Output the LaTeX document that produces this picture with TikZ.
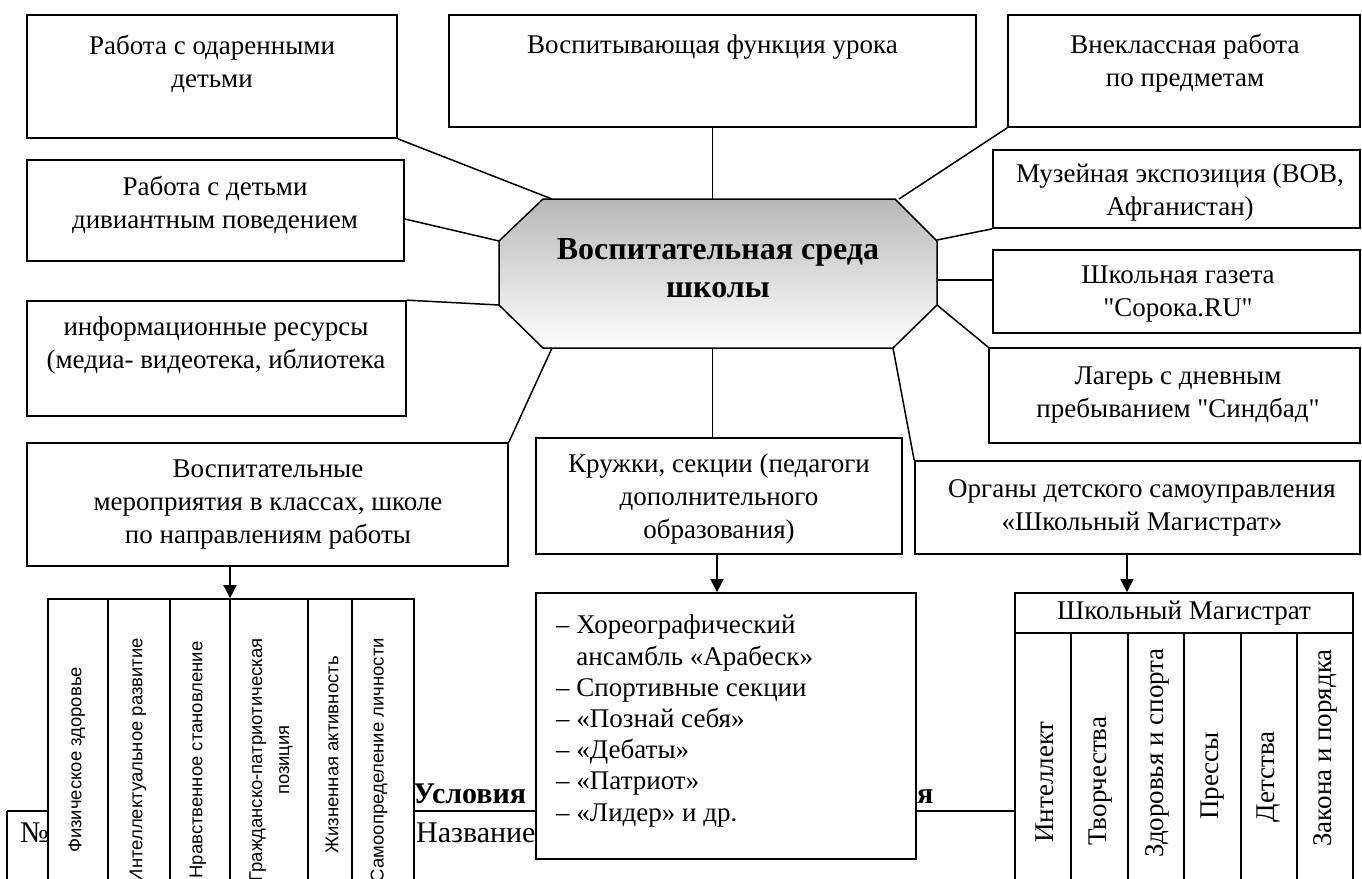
\documentclass[tikz,border=0pt]{standalone}
\usepackage{fontspec}
\setmainfont{Liberation Serif}
\newfontfamily\sansf{Liberation Sans}
\newfontfamily\qf{Liberation Serif}
\usetikzlibrary{arrows.meta}
\newcommand{\sq}{{\qf "}}
\begin{document}
\begin{tikzpicture}[x=1pt,y=-1pt,
  box/.style={draw, line width=1.7pt, fill=white, inner sep=0pt},
  txt/.style={inner sep=0pt, align=center, font=\fontsize{27}{33}\selectfont},
  conn/.style={line width=1.5pt},
  arr/.style={line width=1.6pt, -{Triangle[length=13pt,width=13pt]}},
  rots/.style={rotate=90, inner sep=0pt, align=center, font=\sansf\fontsize{18.5}{27}\selectfont},
  rotr/.style={rotate=90, inner sep=0pt, align=center, font=\fontsize{27}{32}\selectfont},
  big/.style={inner sep=0pt, font=\fontsize{30}{36}\selectfont}]
\useasboundingbox (0,0) rectangle (1362,878);
\clip (0,0) rectangle (1362,878);

% background document table (partly hidden)
\draw[line width=1.6pt] (7,811) -- (1015,811);
\draw[line width=1.6pt] (7,811) -- (7,890);
\draw[line width=1.6pt] (414,811) -- (414,890);
\node[big, anchor=base west] (num) at (20,842) {№};
\node[big, anchor=base west, font=\bfseries\fontsize{30}{36}\selectfont] (usl) at (413,803) {Условия};
\node[big, anchor=base west, font=\bfseries\fontsize{30}{36}\selectfont] (uslend) at (917,803) {я};
\node[big, anchor=base west] (nazv) at (416,842) {Название};

% octagon
\path[draw, line width=1.5pt, top color=black!28, bottom color=white]
  (543,199) -- (895,199) -- (937,241) -- (937,305) -- (893,348) -- (543,348) -- (499,305) -- (499,241) -- cycle;
\node[inner sep=0pt, align=center, font=\bfseries\fontsize{32}{38}\selectfont] (oct) at (718,268) {Воспитательная среда\\школы};
\coordinate (o1) at (552,199);
\coordinate (o2) at (712.5,199);
\coordinate (o3) at (899,199);
\coordinate (o4) at (499,241);
\coordinate (o5) at (499,305);
\coordinate (o6) at (552,348);
\coordinate (o7) at (712.5,348);
\coordinate (o8) at (893,348);
\coordinate (o9) at (937,305);
\coordinate (o10) at (937,280);
\coordinate (o11) at (937,240);

% boxes
\node[box, minimum width=370pt, minimum height=123pt] (b1) at (212,76.5) {};
\node[box, minimum width=527pt, minimum height=112pt] (bB) at (712.5,71) {};
\node[box, minimum width=352pt, minimum height=112pt] (bC) at (1184,71) {};
\node[box, minimum width=377pt, minimum height=101pt] (b2) at (215.5,210.5) {};
\node[box, minimum width=379pt, minimum height=115pt] (b3) at (216.5,358.5) {};
\node[box, minimum width=481pt, minimum height=123pt] (b4) at (267.5,504.5) {};
\node[box, minimum width=366pt, minimum height=116pt] (b5) at (719,496) {};
\node[box, minimum width=380pt, minimum height=266pt] (b6) at (726,726) {};
\node[box, minimum width=367pt, minimum height=78pt] (mus) at (1176.5,189) {};
\node[box, minimum width=367pt, minimum height=83pt] (gaz) at (1176.5,291.5) {};
\node[box, minimum width=371pt, minimum height=95pt] (camp) at (1174.5,395.5) {};
\node[box, minimum width=445pt, minimum height=93pt] (org) at (1137.5,507.5) {};

% texts
\node[txt] (t1) at (212,64) {Работа с одаренными\\детьми};
\node[txt] (tB) at (712.5,47) {Воспитывающая функция урока};
\node[txt] (tC) at (1185,63) {Внеклассная работа\\по предметам};
\node[txt] (t2) at (215,205) {Работа с детьми\\дивиантным поведением};
\node[txt] (t3) at (216,346) {информационные ресурсы\\(медиа- видеотека, иблиотека};
\node[txt] (t4) at (268,505) {Воспитательные\\мероприятия в классах, школе\\по направлениям работы};
\node[txt] (t5) at (719,499) {Кружки, секции (педагоги\\дополнительного\\образования)};
\node[txt] (tm) at (1180,193) {Музейная экспозиция (ВОВ,\\Афганистан)};
\node[txt] (tg) at (1178,294) {Школьная газета\\\sq Сорока.RU\sq};
\node[txt] (tc) at (1178,395) {Лагерь с дневным\\пребыванием \sq Синдбад\sq};
\node[txt] (to) at (1142,508) {Органы детского самоуправления\\«Школьный Магистрат»};
\node[inner sep=0pt, anchor=north west, align=left, font=\fontsize{27}{31.2}\selectfont] (list) at (556,615)
  {– Хореографический\\\phantom{– }ансамбль «Арабеск»\\– Спортивные секции\\– «Познай себя»\\– «Дебаты»\\– «Патриот»\\– «Лидер» и др.};

% connectors
\draw[conn] (b1.south east) -- (o1);
\draw[conn] (bB.south) -- (o2);
\draw[conn] (bC.south west) -- (o3);
\draw[conn] ([yshift=-8.5pt]b2.east) -- (o4);
\draw[conn] (b3.north east) -- (o5);
\draw[conn] (b4.north east) -- (o6);
\draw[conn] ([xshift=-6.5pt]b5.north) -- (o7);
\draw[conn] (org.north west) -- (o8);
\draw[conn] (camp.north west) -- (o9);
\draw[conn] ([yshift=11.5pt]gaz.west) -- (o10);
\draw[conn] (mus.south west) -- (o11);

% left table
\node[box, minimum width=366pt, minimum height=322pt] (lt) at (231,760) {};
\foreach \xx in {108,170,230,308,352} \draw[line width=1.7pt] (\xx,599) -- (\xx,921);
\node[rots] (l1) at (77,760) {Физическое здоровье};
\node[rots] (l2) at (138,760) {Интеллектуальное развитие};
\node[rots] (l3) at (198,760) {Нравственное становление};
\node[rots] (l4) at (271,760) {Гражданско-патриотическая\\позиция};
\node[rots] (l5) at (332,755) {Жизненная активность};
\node[rots] (l6) at (379,760) {Самоопределение личности};

% magistrat table
\node[box, minimum width=338pt, minimum height=320pt] (mt) at (1184,753) {};
\draw[line width=1.7pt] (1015,633) -- (1353,633);
\foreach \xx in {1071,1128,1184,1241,1297} \draw[line width=1.7pt] (\xx,633) -- (\xx,913);
\node[inner sep=0pt, font=\fontsize{27}{32}\selectfont] (mh) at (1184,613) {Школьный Магистрат};
\node[rotr] (m1) at (1045,782) {Интеллект};
\node[rotr] (m2) at (1101,781) {Творчества};
\node[rotr] (m3) at (1157,753) {Здоровья и спорта};
\node[rotr] (m4) at (1213,776) {Прессы};
\node[rotr] (m5) at (1269,777) {Детства};
\node[rotr] (m6) at (1325,748) {Закона и порядка};

% arrows
\draw[arr] ([xshift=-37.5pt]b4.south) -- ([xshift=-37.5pt]b4.south |- lt.north);
\draw[arr] ([xshift=-2pt]b5.south) -- ([xshift=-2pt]b5.south |- b6.north);
\draw[arr] ([xshift=-10.5pt]org.south) -- ([xshift=-10.5pt]org.south |- mt.north);
\end{tikzpicture}
\end{document}
